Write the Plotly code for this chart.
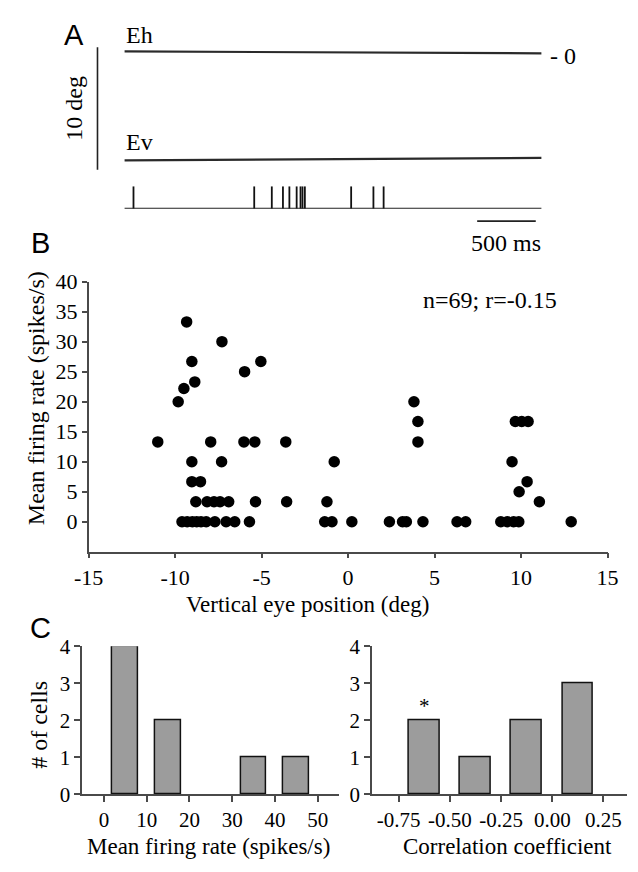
import plotly.graph_objects as go

W, H = 638, 872

# ---------------- data ----------------
# Panel A: eye traces (deg) and spike raster (ms)
trace_time = [0, 3560]
eh_pos = [0.16, 0.0]
ev_pos = [-8.73, -8.53]
spike_times = [78, 1108, 1258, 1353, 1408, 1470, 1503, 1520, 1540, 1935, 2125, 2212]
scale_ms = 500
scale_start = 3010
scale_deg = 10

# Panel B: vertical eye position vs mean firing rate
eye_pos = [-11.0, -9.33, -7.29, -9.03, -5.04, -5.98, -9.49, -8.86, -9.82,
           -7.94, -6.02, -5.39, -3.6, 4.04,
           -9.03, -7.31, -0.8, 9.48,
           -9.03, -8.53, 10.35,
           9.89,
           -8.8, -8.15, -7.75, -7.4, -6.9, -5.35, -3.55, -1.22, 11.06,
           4.04, 9.67, 10.04, 10.41,
           3.81,
           -9.6, -9.3, -9.0, -8.75, -8.5, -8.2, -7.7, -7.05, -6.55, -5.7,
           -1.35, -0.93, 0.22, 2.39, 3.15, 3.37, 4.33, 6.3, 6.8,
           8.83, 9.2, 9.57, 9.87, 12.9]
firing = [13.3, 33.3, 30.0, 26.7, 26.7, 25.0, 22.2, 23.3, 20.0,
          13.3, 13.3, 13.3, 13.3, 13.3,
          10.0, 10.0, 10.0, 10.0,
          6.67, 6.67, 6.67,
          5.0,
          3.33, 3.33, 3.33, 3.33, 3.33, 3.33, 3.33, 3.33, 3.33,
          16.7, 16.7, 16.7, 16.7,
          20.0,
          0, 0, 0, 0, 0, 0, 0, 0, 0, 0,
          0, 0, 0, 0, 0, 0, 0, 0, 0,
          0, 0, 0, 0, 0]

# Panel C: histograms
rate_bins = [5, 15, 25, 35, 45]
rate_counts = [4, 2, 0, 1, 1]
corr_bins = [-0.625, -0.375, -0.125, 0.125]
corr_counts = [2, 1, 2, 3]

x_ticks_B = [-15, -10, -5, 0, 5, 10, 15]
y_ticks_B = [0, 5, 10, 15, 20, 25, 30, 35, 40]
rate_ticks = [0, 10, 20, 30, 40, 50]
corr_ticks = [-0.75, -0.5, -0.25, 0.0, 0.25]
corr_ticktext = ["-0.75", "-0.50", "-0.25", "0.00", "0.25"]
count_ticks = [0, 1, 2, 3, 4]


def px(x):
    return x / W


def py(y):
    return 1 - y / H


SERIF = "Liberation Serif"
SANS = "Liberation Sans"
AX = "#4a4a4a"

fig = go.Figure()

# Panel A traces
fig.add_trace(go.Scatter(x=trace_time, y=eh_pos, mode="lines", xaxis="x", yaxis="y",
                         line=dict(color="#2a2a2a", width=2.2), showlegend=False, hoverinfo="skip"))
fig.add_trace(go.Scatter(x=trace_time, y=ev_pos, mode="lines", xaxis="x", yaxis="y",
                         line=dict(color="#2a2a2a", width=2.2), showlegend=False, hoverinfo="skip"))
sx, sy = [], []
for t in spike_times:
    sx += [t, t, None]
    sy += [0, 1, None]
fig.add_trace(go.Scatter(x=sx, y=sy, mode="lines", xaxis="x", yaxis="y5",
                         line=dict(color="#111", width=1.8), showlegend=False, hoverinfo="skip"))
fig.add_trace(go.Scatter(x=trace_time, y=[0, 0], mode="lines", xaxis="x", yaxis="y5",
                         line=dict(color="#222", width=2), showlegend=False, hoverinfo="skip"))

# Panel B scatter
fig.add_trace(go.Scatter(x=eye_pos, y=firing, mode="markers", xaxis="x2", yaxis="y2",
                         marker=dict(size=11.5, color="black"), showlegend=False))

# Panel C bars (empty bins are not drawn)
rb = [b for b, c in zip(rate_bins, rate_counts) if c > 0]
rc = [c for c in rate_counts if c > 0]
fig.add_trace(go.Bar(x=rb, y=rc, width=6, xaxis="x3", yaxis="y3",
                     marker=dict(color="#9c9c9c", line=dict(color="#111", width=1.5)),
                     showlegend=False))
fig.add_trace(go.Bar(x=corr_bins, y=corr_counts, width=0.15, xaxis="x4", yaxis="y4",
                     marker=dict(color="#9c9c9c", line=dict(color="#111", width=1.5)),
                     showlegend=False))

axstyle = dict(showline=True, linecolor=AX, linewidth=1.5, ticks="outside", ticklen=5,
               tickwidth=1.5, tickcolor=AX, showgrid=False, zeroline=False,
               tickfont=dict(family=SERIF, size=22, color="black"), fixedrange=True)
histstyle = {**axstyle, "ticklen": 6, "tickfont": dict(family=SERIF, size=21, color="black")}

# Panel A y scale: 12.6 px per deg, 0 deg at px 42.5
deg_top = (42.5 - 30) / 12.6
deg_bot = -(170 - 42.5) / 12.6

fig.update_layout(
    width=W, height=H, margin=dict(l=0, r=0, t=0, b=0),
    paper_bgcolor="white", plot_bgcolor="white", bargap=0,
    xaxis=dict(domain=[px(114), px(549)], range=[0, 3560], visible=False, fixedrange=True),
    yaxis=dict(domain=[py(170), py(30)], range=[deg_bot, deg_top], visible=False, fixedrange=True),
    yaxis5=dict(domain=[py(202.3), py(179.3)], range=[0, 1], visible=False, anchor="x", fixedrange=True),
    xaxis2=dict(domain=[px(76.7), px(617.7)], range=[-15, 15], anchor="y2",
                tickvals=x_ticks_B, ticktext=[str(v) for v in x_ticks_B], **axstyle),
    yaxis2=dict(domain=[py(555), py(277.3)], range=[-5, 40], anchor="x2",
                tickvals=y_ticks_B, ticktext=[str(v) for v in y_ticks_B], **axstyle),
    xaxis3=dict(domain=[px(70), px(338)], range=[-5.09, 55], anchor="y3",
                tickvals=rate_ticks, ticktext=[str(v) for v in rate_ticks], **histstyle),
    yaxis3=dict(domain=[py(804.5), py(652.3)], range=[0, 4], anchor="x3",
                tickvals=count_ticks, ticktext=[str(v) for v in count_ticks], **histstyle),
    xaxis4=dict(domain=[px(372), 1.0], range=[-0.881, 0.365], anchor="y4",
                tickvals=corr_ticks, ticktext=corr_ticktext, **histstyle),
    yaxis4=dict(domain=[py(804.5), py(652.3)], range=[0, 4], anchor="x4",
                tickvals=count_ticks, ticktext=[str(v) for v in count_ticks], **histstyle),
)

shapes = [
    # 10 deg vertical scale bar
    dict(type="line", xref="paper", yref="y", x0=px(86), x1=px(86), y0=0.5, y1=0.5 - scale_deg,
         line=dict(color="#222", width=1.6)),
    # 500 ms horizontal scale bar
    dict(type="line", xref="x", yref="paper", x0=scale_start, x1=scale_start + scale_ms,
         y0=py(215), y1=py(215), line=dict(color="#222", width=1.6)),
]
fig.update_layout(shapes=shapes)

tf = dict(family=SERIF, size=24, color="black")
tf2 = dict(family=SERIF, size=23, color="black")
ann = [
    dict(text="A", x=px(62), y=py(24), font=dict(family=SANS, size=29, color="black")),
    dict(text="B", x=px(27), y=py(238), font=dict(family=SANS, size=29, color="black")),
    dict(text="C", x=px(27), y=py(633), font=dict(family=SANS, size=29, color="black")),
    dict(text="Eh", x=px(130), y=py(24), font=tf),
    dict(text="Ev", x=px(130), y=py(134), font=tf),
    dict(text="10 deg", x=px(62), y=py(99), font=tf, textangle=-90),
    dict(text="- 0", x=px(556), y=py(45), font=tf, xanchor="left"),
    dict(text="500 ms", x=px(512), y=py(238), font=tf),
    dict(text="n=69; r=-0.15", x=px(495), y=py(296), font=tf),
    dict(text="Mean firing rate (spikes/s)", x=px(22), y=py(397), font=tf, textangle=-90),
    dict(text="Vertical eye position (deg)", x=px(305), y=py(609), font=tf2),
    dict(text="# of cells", x=px(25), y=py(733), font=tf, textangle=-90),
    dict(text="Mean firing rate (spikes/s)", x=px(202), y=py(858), font=tf2),
    dict(text="Correlation coefficient", x=px(513), y=py(858), font=tf2),
]
annotations = []
for a in ann:
    d = dict(xref="paper", yref="paper", showarrow=False, xanchor="center", yanchor="middle")
    d.update(a)
    annotations.append(d)
# asterisk above the first correlation bar
annotations.append(dict(text="*", xref="x4", yref="y4", x=corr_bins[0], y=corr_counts[0],
                        showarrow=False, yanchor="bottom", font=dict(family=SERIF, size=21, color="black")))
fig.update_layout(annotations=annotations)

fig.write_html("out.html")
